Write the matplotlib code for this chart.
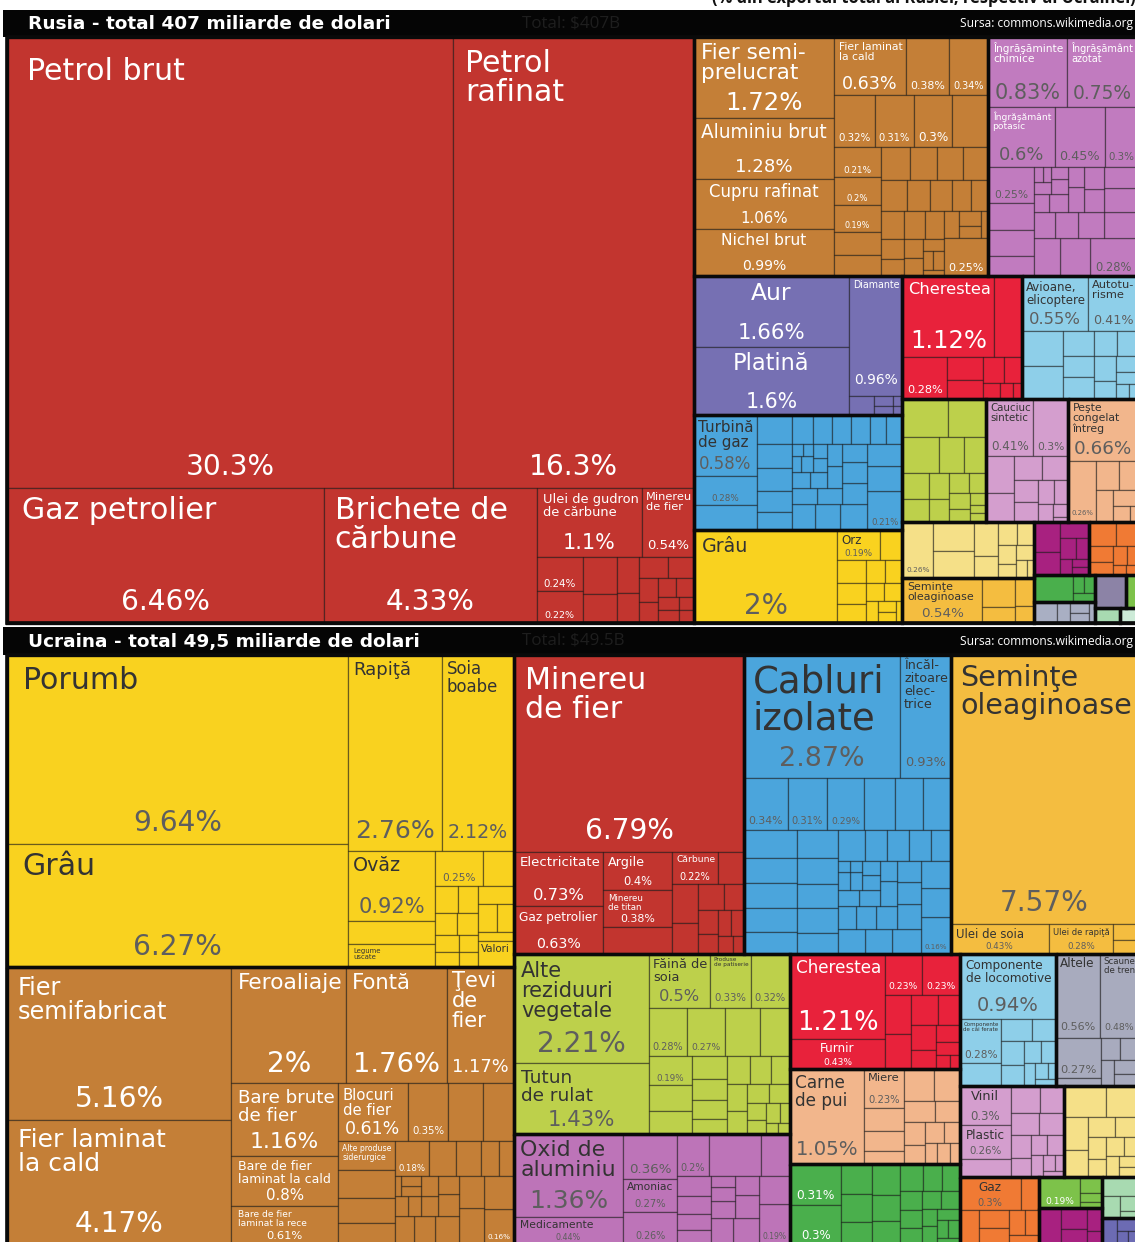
import matplotlib
matplotlib.use("Agg")
import matplotlib.pyplot as plt
from matplotlib.patches import Rectangle
from matplotlib.textpath import TextPath
from matplotlib.font_manager import FontProperties

# ======================= DATA (percent of total exports) =======================
# ---- Russia ----
ru_petrol = [("Petrol brut", 30.3, 1), ("Petrol\nrafinat", 16.3, 1)]
ru_gas = [("Gaz petrolier", 6.46, 1), ("Brichete de\ncărbune", 4.33, 1)]
ru_tar = [("Ulei de gudron\nde cărbune", 1.1, 1), ("Minereu\nde fier", 0.54, 1)]
ru_min_small_a = [("", 0.24, 1), ("", 0.22, 1)]
ru_min_small_b = [0.19, 0.15, 0.12, 0.1, 0.09, 0.08, 0.07, 0.06, 0.05, 0.05, 0.04, 0.04, 0.03, 0.03]

ru_met_big = [("Fier semi-\nprelucrat", 1.72, 1), ("Aluminiu brut", 1.28, 1),
              ("Cupru rafinat", 1.06, 1), ("Nichel brut", 0.99, 1)]
ru_met_r1 = [("Fier laminat\nla cald", 0.63, 1), ("", 0.38, 1), ("", 0.34, 1)]
ru_met_r2 = [("", 0.32, 1), ("", 0.31, 1), ("", 0.3, 1), 0.28]
ru_met_c3 = [("", 0.21, 1), ("", 0.2, 1), ("", 0.19, 1), 0.16, 0.15]
ru_met_row4 = [0.14, 0.13, 0.13, 0.12]
ru_met_row5 = [0.12, 0.11, 0.1, 0.09, 0.08]
ru_met_sq = [0.1, 0.09, 0.08, 0.07, 0.06, 0.05, 0.05, 0.04, 0.03, 0.03, 0.02]
ru_met_tiny = [0.06, 0.05, 0.04, 0.03]
ru_met_025 = ("", 0.25, 1)

ru_chem_r1 = [("Îngrăşăminte\nchimice", 0.83, 1), ("Îngrăşământ\nazotat", 0.75, 1)]
ru_chem_r2 = [("Îngrăşământ\npotasic", 0.6, 1), ("", 0.45, 1), ("", 0.3, 1)]
ru_chem_c = [("", 0.25, 1), 0.19, 0.18, 0.14]
ru_chem_rest = [("", 0.28, 1), 0.17, 0.15, 0.13, 0.12, 0.11, 0.1, 0.09, 0.08, 0.07, 0.07,
                0.06, 0.05, 0.05, 0.04, 0.04, 0.03, 0.03, 0.02, 0.02]

ru_prec = [("Aur", 1.66, 1), ("Platină", 1.6, 1)]
ru_diam = ("Diamante", 0.96, 1)
ru_prec_small = [0.075, 0.03, 0.027, 0.015, 0.012]

ru_mach_c1 = [("Turbină\nde gaz", 0.58, 1), ("", 0.28, 1), 0.24]
ru_mach_c2 = [0.15, 0.13, 0.12, 0.11, 0.1]
ru_mach_r = [0.09, 0.08, 0.08, 0.08, 0.07, 0.07]
ru_mach_rest = [("", 0.21, 1), 0.13, 0.12, 0.11, 0.1, 0.09, 0.08, 0.08, 0.07, 0.06, 0.06,
                0.05, 0.05, 0.04, 0.04, 0.03, 0.03, 0.03, 0.02, 0.02, 0.02]

ru_wheat = ("Grâu", 2.0, 1)
ru_veg_r = [("Orz", 0.19, 1), 0.1]
ru_veg_rest = [0.1, 0.09, 0.08, 0.07, 0.06, 0.05, 0.05, 0.04, 0.03, 0.03, 0.02]

ru_wood_r1 = [("Cherestea", 1.12, 1), 0.33]
ru_wood_r2 = [("", 0.28, 1), 0.13, 0.1, 0.08, 0.07, 0.04, 0.03, 0.02]
ru_trans_r1 = [("Avioane,\nelicoptere", 0.55, 1), ("Autotu-\nrisme", 0.41, 1)]
ru_trans_rest = [0.22, 0.2, 0.12, 0.1, 0.1, 0.09, 0.08, 0.08, 0.06, 0.05, 0.04, 0.03, 0.02]

ru_food = [0.26, 0.22, 0.2, 0.14, 0.12, 0.1, 0.09, 0.08, 0.07, 0.06, 0.05, 0.05, 0.04, 0.03, 0.02, 0.02]
ru_rub_r1 = [("Cauciuc\nsintetic", 0.41, 1), ("", 0.3, 1)]
ru_rub_rest = [0.15, 0.12, 0.1, 0.09, 0.08, 0.07, 0.06, 0.05, 0.04, 0.03, 0.01]
ru_fish = ("Peşte\ncongelat\nîntreg", 0.66, 1)
ru_anim_rest = [("", 0.26, 1), 0.1, 0.08, 0.08, 0.06, 0.04, 0.02]

ru_paper = [("", 0.26, 1), 0.18, 0.17, 0.12, 0.08, 0.07, 0.06, 0.05, 0.04, 0.04, 0.03, 0.02]
ru_seed = ("Seminţe\noleaginoase", 0.54, 1)
ru_seed_rest = [0.14, 0.08, 0.08, 0.05]
ru_tex = [0.12, 0.09, 0.07, 0.05, 0.04, 0.03, 0.02, 0.02]
ru_stone = [0.1, 0.08, 0.06, 0.05, 0.04, 0.03, 0.02, 0.02]
ru_shoe = [0.16, 0.03, 0.03, 0.03]
ru_misc = [0.07, 0.04, 0.03, 0.03, 0.02]
ru_arms = [0.15]
ru_lime2 = [0.06]
ru_lgreen = [0.055]
ru_mint = [0.04]

# ---- Ukraine ----
ua_corn = [("Porumb", 9.64, 1), ("Grâu", 6.27, 1)]
ua_rape = [("Rapiţă", 2.76, 1), ("Soia\nboabe", 2.12, 1)]
ua_oats = [("Ovăz", 0.92, 1), 0.31, ("Legume\nuscate", 0.29, 0)]
ua_veg_r = [("", 0.25, 1), 0.16]
ua_veg_sq = [0.09, 0.08, 0.07, 0.07, 0.06, 0.05, 0.05, 0.04]
ua_veg_sq2 = [0.1, 0.08, 0.07, 0.05]
ua_valori = ("Valori", 0.14, 0)

ua_fe_big = [("Fier\nsemifabricat", 5.16, 1), ("Fier laminat\nla cald", 4.17, 1)]
ua_fe_r1 = [("Feroaliaje", 2.0, 1), ("Fontă", 1.76, 1), ("Ţevi\nde\nfier", 1.17, 1)]
ua_bars = [("Bare brute\nde fier", 1.16, 1), ("Bare de fier\nlaminat la cald", 0.8, 1),
           ("Bare de fier\nlaminat la rece", 0.61, 1)]
ua_fe_r2 = [("Blocuri\nde fier", 0.61, 1), ("", 0.35, 1), 0.3, 0.27]
ua_fe_c = [("Alte produse\nsiderurgice", 0.25, 0), 0.24, 0.21, 0.18]
ua_fe_r3 = [("", 0.18, 1), 0.14, 0.13, 0.09, 0.08]
ua_fe_rest = [("", 0.16, 1), 0.15, 0.13, 0.12, 0.1, 0.09, 0.08, 0.07, 0.06, 0.05, 0.05,
              0.04, 0.04, 0.03, 0.03, 0.02]

ua_ore = ("Minereu\nde fier", 6.79, 1)
ua_elec = [("Electricitate", 0.73, 1), ("Gaz petrolier", 0.63, 1)]
ua_clay = [("Argile", 0.4, 1), ("Minereu\nde titan", 0.38, 1), 0.28]
ua_coal = [("Cărbune", 0.22, 1), 0.13]
ua_min_rest = [0.15, 0.12, 0.1, 0.08, 0.07, 0.06, 0.05, 0.05, 0.04, 0.03]

ua_cab = [("Cabluri\nizolate", 2.87, 1), ("Încăl-\nzitoare\nelec-\ntrice", 0.93, 1)]
ua_mach_r = [("", 0.34, 1), ("", 0.31, 1), ("", 0.29, 1), 0.24, 0.22, 0.22]
ua_mach_c1 = [0.22, 0.2, 0.2, 0.19, 0.17]
ua_mach_c2 = [0.17, 0.16, 0.15, 0.15, 0.13]
ua_mach_r2 = [0.12, 0.1, 0.1, 0.1, 0.09]
ua_mach_rest = [("", 0.16, 1), 0.13, 0.12, 0.11, 0.1, 0.1, 0.09, 0.08, 0.08, 0.07, 0.07,
                0.06, 0.06, 0.05, 0.05, 0.05, 0.04, 0.04, 0.03, 0.03, 0.02, 0.02]

ua_seed = ("Seminţe\noleaginoase", 7.57, 1)
ua_oil = [("Ulei de soia", 0.43, 1), ("Ulei de rapiţă", 0.28, 1)]
ua_oil_small = [0.06, 0.05]

ua_food_big = [("Alte\nreziduuri\nvegetale", 2.21, 1), ("Tutun\nde rulat", 1.43, 1)]
ua_food_r1 = [("Făină de\nsoia", 0.5, 1), ("Produse\nde patiserie", 0.33, 1), ("", 0.32, 1)]
ua_food_r2 = [("", 0.28, 1), ("", 0.27, 1), 0.25, 0.22]
ua_food_c1 = [("", 0.19, 1), 0.17, 0.15]
ua_food_c2 = [0.12, 0.11, 0.1, 0.08]
ua_food_rest = [0.1, 0.09, 0.08, 0.08, 0.07, 0.06, 0.06, 0.05, 0.04, 0.04, 0.03, 0.02, 0.02]

ua_chem_big = [("Oxid de\naluminiu", 1.36, 1), ("Medicamente", 0.44, 1)]
ua_chem_c = [("", 0.36, 1), ("Amoniac", 0.27, 1), ("", 0.26, 1)]
ua_chem_r = [("", 0.2, 1), 0.33, 0.18]
ua_chem_c2 = [0.1, 0.09, 0.08, 0.07]
ua_chem_rest = [("", 0.19, 1), 0.13, 0.1, 0.09, 0.08, 0.07, 0.06, 0.05, 0.04]

ua_wood = [("Cherestea", 1.21, 1), ("Furnir", 0.43, 1)]
ua_wood_r = [("", 0.23, 1), ("", 0.23, 1)]
ua_wood_rest = [0.16, 0.14, 0.12, 0.1, 0.09, 0.07, 0.06, 0.05, 0.03, 0.02]

ua_meat = ("Carne\nde pui", 1.05, 1)
ua_honey = [("Miere", 0.23, 1), 0.14, 0.12, 0.08]
ua_anim_rest = [0.14, 0.12, 0.1, 0.08, 0.07, 0.06, 0.06, 0.05, 0.04, 0.04, 0.03]

ua_green_c = [("", 0.31, 1), ("", 0.3, 1)]
ua_green_c2 = [0.14, 0.13, 0.1]
ua_green_rest = [0.13, 0.11, 0.1, 0.09, 0.08, 0.07, 0.06, 0.06, 0.05, 0.05, 0.05, 0.04,
                 0.04, 0.04, 0.03, 0.03, 0.02]

ua_loco = ("Componente\nde locomotive", 0.94, 1)
ua_rail = [("Componente\nde căi ferate", 0.28, 1), 0.14]
ua_trans_rest = [0.1, 0.08, 0.08, 0.07, 0.06, 0.05, 0.04, 0.03, 0.02, 0.02]

ua_misc = [("Altele", 0.56, 1), ("Scaune\nde tren", 0.48, 1)]
ua_misc_c = [("", 0.27, 1), 0.05]
ua_misc_rest = [0.06, 0.06, 0.05, 0.05, 0.04]

ua_vinyl = [("Vinil", 0.3, 1), ("Plastic", 0.26, 1), 0.14]
ua_rub_rest = [0.12, 0.1, 0.09, 0.08, 0.07, 0.06, 0.05, 0.05, 0.04, 0.03, 0.02, 0.02]
ua_paper = [0.2, 0.15, 0.12, 0.1, 0.08, 0.07, 0.06, 0.05, 0.05, 0.04, 0.04, 0.03, 0.03]
ua_gas = [("Gaz", 0.3, 1), 0.09]
ua_org_rest = [0.1, 0.08, 0.07, 0.06, 0.05, 0.04]
ua_lime = [("", 0.19, 1), 0.05, 0.03, 0.02]
ua_mag = [0.12, 0.08, 0.06, 0.05, 0.03]
ua_mint = [0.1, 0.06, 0.04, 0.02]
ua_purp = [0.06, 0.04, 0.02, 0.02]

titles = ["Rusia - total 407 miliarde de dolari", "Ucraina - total 49,5 miliarde de dolari"]
totals = ["Total: $407B", "Total: $49.5B"]
source = "Sursa: commons.wikimedia.org"
top_note = "(% din exportul total al Rusiei, respectiv al Ucrainei)"

# ======================= STYLE =======================
COL = {'min': '#C2352F', 'met': '#C47F37', 'chem': '#C17BBF', 'chem2': '#BD74B8',
       'prec': '#7670B3', 'mach': '#4BA5DC', 'wood': '#E8223B', 'trans': '#8ECFE9',
       'veg': '#F9D21F', 'food': '#BDD04B', 'rub': '#D49ECE', 'anim': '#F2B68C',
       'paper': '#F5E088', 'oil': '#F4BD40', 'tex': '#A82180', 'stone': '#F07A34',
       'shoe': '#4AAF4C', 'misc': '#A9AFC3', 'misc2': '#A8ABBE', 'arms': '#8C83A6',
       'lime': '#7DC24A', 'lgreen': '#A8DAB1', 'mint': '#CDEBD8', 'pblue': '#6C6BB3'}
WH, DK, GR = '#ffffff', '#333333', '#5e5e5e'
TXT = {'min': (WH, WH), 'met': (WH, WH), 'chem': (WH, GR), 'chem2': (DK, GR),
       'prec': (WH, WH), 'mach': (DK, GR), 'wood': (WH, WH), 'trans': (DK, GR),
       'veg': (DK, GR), 'food': (DK, GR), 'rub': (DK, GR), 'anim': (DK, GR),
       'paper': (DK, GR), 'oil': (DK, GR), 'tex': (WH, WH), 'stone': (DK, GR),
       'shoe': (WH, WH), 'misc': (DK, GR), 'misc2': (DK, GR), 'arms': (WH, WH),
       'lime': (WH, WH), 'lgreen': (DK, GR), 'mint': (DK, GR), 'pblue': (WH, WH)}
CENTERED = {"Aur", "Platină", "Aluminiu brut", "Cupru rafinat", "Nichel brut",
            "Furnir", "Vinil", "Plastic", "Gaz"}
# per-label font-size overrides (px), keyed by label text and group
NAME_PX = {("Cabluri\nizolate", 'mach'): 37, ("Ţevi\nde\nfier", 'met'): 21,
           ("Rapiţă", 'veg'): 18, ("Fier\nsemifabricat", 'met'): 24,
           ("Fier laminat\nla cald", 'met', 'big'): 25, ("Grâu", 'veg', 'small'): 19}

# ======================= LAYOUT ENGINE =======================
def H(*k): return {'t': 'H', 'k': list(k)}
def V(*k): return {'t': 'V', 'k': list(k)}
def S(lst): return {'t': 'S', 'k': list(lst)}
def SF(lst): return {'t': 'SF', 'k': list(lst)}
def G(g, node): return {'t': 'G', 'g': g, 'k': [node]}

def val(n):
    if isinstance(n, (int, float)):
        return float(n)
    if isinstance(n, tuple):
        return float(n[1])
    return sum(val(c) for c in n['k'])

def squarify(vals, x, y, w, h):
    tot = sum(vals)
    scale = w * h / tot
    areas = [v * scale for v in vals]
    rects, i, n = [], 0, len(areas)
    while i < n:
        side = min(w, h)
        def worst(r):
            s = sum(r)
            return max(max(side * side * a / (s * s), s * s / (side * side * a)) for a in r)
        row = [areas[i]]; i += 1
        while i < n and worst(row + [areas[i]]) <= worst(row):
            row.append(areas[i]); i += 1
        s = sum(row)
        if w >= h:
            cw = s / h
            yy = y
            for a in row:
                rects.append((x, yy, cw, a / cw)); yy += a / cw
            x += cw; w -= cw
        else:
            rh = s / w
            xx = x
            for a in row:
                rects.append((xx, y, a / rh, rh)); xx += a / rh
            y += rh; h -= rh
    return rects

def place(n, x, y, w, h, grp, leaves, groups):
    if isinstance(n, (int, float, tuple)):
        leaves.append((x, y, w, h, n, grp)); return
    t = n['t']
    if t == 'G':
        groups.append((x, y, w, h))
        place(n['k'][0], x, y, w, h, n['g'], leaves, groups)
    elif t in ('H', 'V'):
        tot = sum(val(c) for c in n['k'])
        pos = x if t == 'H' else y
        for c in n['k']:
            f = val(c) / tot
            if t == 'H':
                place(c, pos, y, w * f, h, grp, leaves, groups); pos += w * f
            else:
                place(c, x, pos, w, h * f, grp, leaves, groups); pos += h * f
    else:
        rects = squarify([val(c) for c in n['k']], x, y, w, h)
        for c, (rx, ry, rw, rh) in zip(n['k'], rects):
            if t == 'SF':
                rx = x + w - (rx - x) - rw
                ry = y + h - (ry - y) - rh
            place(c, rx, ry, rw, rh, grp, leaves, groups)

# ======================= TREES =======================
ru_tree = H(
    G('min', V(H(*ru_petrol),
               H(ru_gas[0], ru_gas[1],
                 V(H(*ru_tar), H(V(*ru_min_small_a), S(ru_min_small_b)))))),
    V(
        H(G('met', H(V(*ru_met_big),
                     V(H(*ru_met_r1), H(*ru_met_r2),
                       H(V(*ru_met_c3),
                         V(H(*ru_met_row4), H(*ru_met_row5),
                           H(S(ru_met_sq), V(S(ru_met_tiny), ru_met_025))))))),
          G('chem', V(H(*ru_chem_r1), H(*ru_chem_r2), H(V(*ru_chem_c), SF(ru_chem_rest))))),
        H(V(G('prec', H(V(*ru_prec),
                        V(ru_diam, H(ru_prec_small[0], V(*ru_prec_small[1:3]), V(*ru_prec_small[3:5]))))),
            G('mach', H(V(*ru_mach_c1), V(*ru_mach_c2), V(H(*ru_mach_r), SF(ru_mach_rest)))),
            G('veg', H(ru_wheat, V(H(*ru_veg_r), S(ru_veg_rest))))),
          V(H(G('wood', V(H(*ru_wood_r1), H(ru_wood_r2[0], S(ru_wood_r2[1:])))),
              G('trans', V(H(*ru_trans_r1), S(ru_trans_rest)))),
            H(G('food', S(ru_food)),
              G('rub', V(H(*ru_rub_r1), S(ru_rub_rest))),
              G('anim', V(ru_fish, S(ru_anim_rest)))),
            H(V(G('paper', S(ru_paper)), G('oil', H(ru_seed, S(ru_seed_rest)))),
              V(H(G('tex', S(ru_tex)), G('stone', S(ru_stone))),
                H(V(G('shoe', S(ru_shoe)), G('misc', S(ru_misc))),
                  V(H(G('arms', S(ru_arms)), G('lime', S(ru_lime2))),
                    H(G('lgreen', S(ru_lgreen)), G('mint', S(ru_mint))))))))))
)

ua_tree = H(
    V(G('veg', H(V(*ua_corn),
                 V(H(*ua_rape),
                   H(V(*ua_oats),
                     V(H(*ua_veg_r), H(S(ua_veg_sq), V(S(ua_veg_sq2), ua_valori))))))),
      G('met', H(V(*ua_fe_big),
                 V(H(*ua_fe_r1),
                   H(V(*ua_bars),
                     V(H(*ua_fe_r2),
                       H(V(*ua_fe_c), V(H(*ua_fe_r3), SF(ua_fe_rest))))))))),
    V(H(G('min', V(ua_ore, H(V(*ua_elec), V(*ua_clay), V(H(*ua_coal), S(ua_min_rest))))),
        G('mach', V(H(*ua_cab), H(*ua_mach_r),
                    H(V(*ua_mach_c1), V(*ua_mach_c2), V(H(*ua_mach_r2), SF(ua_mach_rest))))),
        G('oil', V(ua_seed, H(*ua_oil, V(*ua_oil_small))))),
      H(V(G('food', H(V(*ua_food_big),
                      V(H(*ua_food_r1), H(*ua_food_r2),
                        H(V(*ua_food_c1), V(*ua_food_c2), S(ua_food_rest))))),
          G('chem2', H(V(*ua_chem_big), V(*ua_chem_c),
                       V(H(*ua_chem_r), H(V(*ua_chem_c2), SF(ua_chem_rest)))))),
        V(G('wood', H(V(*ua_wood), V(H(*ua_wood_r), S(ua_wood_rest)))),
          G('anim', H(ua_meat, V(*ua_honey), S(ua_anim_rest))),
          G('shoe', H(V(*ua_green_c), V(*ua_green_c2), S(ua_green_rest)))),
        V(H(G('trans', V(ua_loco, H(V(*ua_rail), S(ua_trans_rest)))),
            G('misc2', V(H(*ua_misc), H(V(*ua_misc_c), S(ua_misc_rest))))),
          H(G('rub', H(V(*ua_vinyl), S(ua_rub_rest))), G('paper', S(ua_paper))),
          H(G('stone', V(H(*ua_gas), S(ua_org_rest))),
            V(G('lime', H(ua_lime[0], V(*ua_lime[1:]))), G('tex', S(ua_mag))),
            V(G('lgreen', S(ua_mint)), G('pblue', S(ua_purp)))))))
)

# ======================= DRAW =======================
W, Hh = 1135, 1242
fig = plt.figure(figsize=(W / 100, Hh / 100), dpi=100)
ax = fig.add_axes([0, 0, 1, 1])
ax.set_xlim(0, W)
ax.set_ylim(Hh, 0)
ax.axis('off')
PT = 0.72  # px -> pt at 100 dpi

fp = FontProperties(family='DejaVu Sans')
_cache = {}
def tw(s):
    if s not in _cache:
        _cache[s] = TextPath((0, 0), s, size=1, prop=fp).get_extents().width if s.strip() else 0.5
    return _cache[s]

def override(name, grp, w):
    size = 'big' if w > 150 else 'small'
    for key in ((name, grp, size), (name, grp)):
        if key in NAME_PX:
            return NAME_PX[key]
    return None

def label(x, y, w, h, leaf, grp):
    name, v, showp = leaf
    ncol, pcol = TXT[grp]
    pad = min(22, 0.04 * w + 2)
    pad_t = min(pad, 0.05 * h + 2)
    pad_b = min(13, 0.08 * h + 2)
    s = f"{v:g}%"
    pfs = min(28, 0.85 * (w - 4) / tw(s), 0.3 * h) if showp else 0
    name_h = 0
    if name:
        lines = name.split('\n')
        nl = len(lines)
        wmax = max(tw(l) for l in lines)
        avail = h - pad_t - pad_b - 0.8 * pfs
        fs = min(30, (w - 2 * pad) / wmax, 0.16 * w + 5, avail / (1.1 * nl))
        if nl == 1:
            fs = min(fs, max(0.33 * h, min(0.4 * h, 12)))
        ov = override(name, grp, w)
        if ov is not None:
            fs = ov
        if fs >= 4:
            cen = name.replace('\n', ' ') in CENTERED
            ax.text(x + (w / 2 if cen else pad), y + pad_t, name, fontsize=fs * PT,
                    ha='center' if cen else 'left', va='top', color=ncol,
                    linespacing=1.0, multialignment='center' if cen else 'left', zorder=5)
            name_h = nl * fs * 1.1
    if showp:
        fs = pfs
        if name:
            fs = min(fs, max(6, (h - pad_t - name_h - pad_b) / 0.8))
        if fs >= 4:
            ax.text(x + w / 2, y + h - pad_b, s, fontsize=fs * PT, ha='center',
                    va='baseline', color=pcol, zorder=5)

def draw_map(tree, x0, y0, x1, y1):
    leaves, groups = [], []
    place(tree, x0, y0, x1 - x0, y1 - y0, None, leaves, groups)
    for (x, y, w, h, leaf, grp) in leaves:
        ax.add_patch(Rectangle((x, y), w, h, facecolor=COL[grp],
                               edgecolor=(0, 0, 0, 0.45), lw=0.9, zorder=1))
    for (x, y, w, h) in groups:
        ax.add_patch(Rectangle((x, y), w, h, fill=False, edgecolor='#0a0a0a', lw=2.4, zorder=3))
    ax.add_patch(Rectangle((x0, y0), x1 - x0, y1 - y0, fill=False, edgecolor='#0a0a0a', lw=2.6, zorder=3))
    for (x, y, w, h, leaf, grp) in leaves:
        if isinstance(leaf, tuple):
            label(x, y, w, h, leaf, grp)

def header(y0, y1, title, total):
    ax.add_patch(Rectangle((3, y0), W - 3, y1 - y0, facecolor='#050505', edgecolor='none', zorder=2))
    yc = (y0 + y1) / 2
    ax.text(28, yc + 0.5, title, fontsize=18.5 * PT, fontweight='bold', family='DejaVu Sans',
            color='white', va='center', ha='left', zorder=6)
    ax.text(522, yc, total, fontsize=17 * PT, family='Open Sans', color='#1e1e1e',
            va='center', ha='left', zorder=6)
    ax.text(1133, yc, source, fontsize=12 * PT, family='Open Sans', color='white',
            va='center', ha='right', zorder=6)

ax.text(712, 3, top_note, fontsize=16.5 * PT, fontweight='bold', family='Open Sans',
        color='#111111', va='baseline', ha='left', zorder=6)

header(10, 37, titles[0], totals[0])
draw_map(ru_tree, 7, 37, 1138, 623)
header(627, 655, titles[1], totals[1])
draw_map(ua_tree, 7, 655, 1138, 1244)

fig.savefig("out.png", dpi=100, facecolor='white')
